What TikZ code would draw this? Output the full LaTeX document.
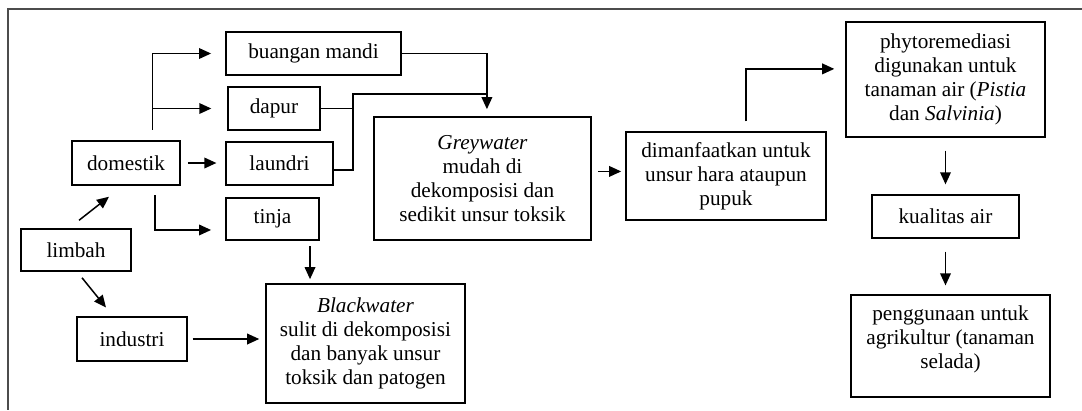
\documentclass[tikz,border=0pt]{standalone}
\usepackage{fontspec}
\setmainfont{Liberation Serif}
\usetikzlibrary{arrows.meta}
\tikzset{
	kotak/.style={draw, line width=0.85pt, inner sep=0pt, align=center,
		font=\fontsize{12}{13.6}\selectfont},
	ukuran/.style 2 args={minimum width=#1*0.565pt, minimum height=#2*0.565pt},
	panah/.style={line width=0.85pt, -{Triangle[length=6.8pt,width=6pt]}},
	garis/.style={line width=0.85pt}
}
\begin{document}
\begin{tikzpicture}[x=0.565pt,y=-0.565pt]
	\useasboundingbox (0,0) rectangle (1082,410);
	\draw[black!70,line width=0.85pt] (1082,9) -- (8,9) -- (8,410);
	% kotak-kotak
	\node[kotak,ukuran={108}{44}] (domestik) at (126,163) {domestik};
	\node[kotak,ukuran={110}{42}] (limbah) at (76,250) {limbah};
	\node[kotak,ukuran={110}{44}] (industri) at (132,339) {industri};
	\node[kotak,ukuran={175}{43}] (mandi) at (313.5,53.5) {buangan mandi};
	\node[kotak,ukuran={92}{43}] (dapur) at (274,108.5) {dapur};
	\node[kotak,ukuran={107}{43}] (laundri) at (279.5,163.5) {laundri};
	\node[kotak,ukuran={93}{42}] (tinja) at (272.5,219) {tinja};
	\node[kotak,ukuran={199}{119}] (black) at (365.5,343.5)
		{\textit{Blackwater}\\ sulit di dekomposisi\\ dan banyak unsur\\ toksik dan patogen};
	\node[kotak,ukuran={217}{123}] (grey) at (482.5,178.5)
		{\textit{Greywater}\\ mudah di\\ dekomposisi dan\\ sedikit unsur toksik};
	\node[kotak,ukuran={200}{88}] (manfaat) at (726,176)
		{dimanfaatkan untuk\\ unsur hara ataupun\\ pupuk};
	\node[kotak,ukuran={199}{115}] (phyto) at (945.5,79.5)
		{phytoremediasi\\ digunakan untuk\\ tanaman air (\textit{Pistia}\\ dan \textit{Salvinia})};
	\node[kotak,ukuran={147}{43}] (kualitas) at (945.5,216.5) {kualitas air};
	\node[kotak,ukuran={199}{102},text depth=9.6pt] (guna) at (950.5,346)
		{penggunaan untuk\\ agrikultur (tanaman\\ selada)};
	% limbah
	\draw[panah] ([shift={(1.7pt,4.5pt)}]limbah.north) -- ([shift={(-9.6pt,-6.2pt)}]domestik.south);
	\draw[panah] ([shift={(3.4pt,-3.4pt)}]limbah.south) -- ([shift={(-14.7pt,5pt)}]industri.north);
	% cabang domestik
	\coordinate (dtop) at ([shift={(15pt,6pt)}]domestik.north);
	\coordinate (dmid) at (dtop |- dapur.west);
	\draw[panah,shorten >=8pt] (dtop) |- (mandi.west);
	\draw[panah,shorten >=9pt] (dmid) -- (dapur.west);
	\draw[panah,shorten <=4pt,shorten >=5pt] (domestik.east) -- (domestik.east -| laundri.west);
	\draw[panah,shorten <=5.5pt,shorten >=8pt] ([xshift=16.4pt]domestik.south) |- ([yshift=-6.2pt]tinja.west);
	% ke greywater
	\coordinate (gin) at ([xshift=2.5pt]grey.north);
	\coordinate (join) at (353,94);
	\draw[panah,shorten >=4pt] (mandi.east) -| (gin);
	\draw[garis] (dapur.east) -- (dapur.east -| join);
	\draw[garis] ([yshift=-3.7pt]laundri.east) -| (join) -- (join -| gin);
	% ke blackwater
	\draw[panah,shorten <=3pt,shorten >=2.3pt] ([xshift=21.2pt]tinja.south) -- ([xshift=21.2pt]tinja.south |- black.north);
	\draw[panah,shorten <=2.8pt,shorten >=3.4pt] (industri.east) -- (industri.east -| black.west);
	% sisi kanan
	\draw[panah,shorten <=3.4pt,shorten >=2.3pt] ([yshift=4pt]grey.east) -- ([yshift=4pt]grey.east -| manfaat.west);
	\draw[panah,shorten <=5.6pt,shorten >=6.2pt] ([xshift=11.3pt]manfaat.north) |- ([yshift=6pt]phyto.west);
	\draw[panah,shorten <=7.3pt,shorten >=5.6pt] (phyto.south) -- (kualitas.north);
	\draw[panah,shorten <=7.3pt,shorten >=5pt] (kualitas.south) -- (kualitas.south |- guna.north);
\end{tikzpicture}
\end{document}
